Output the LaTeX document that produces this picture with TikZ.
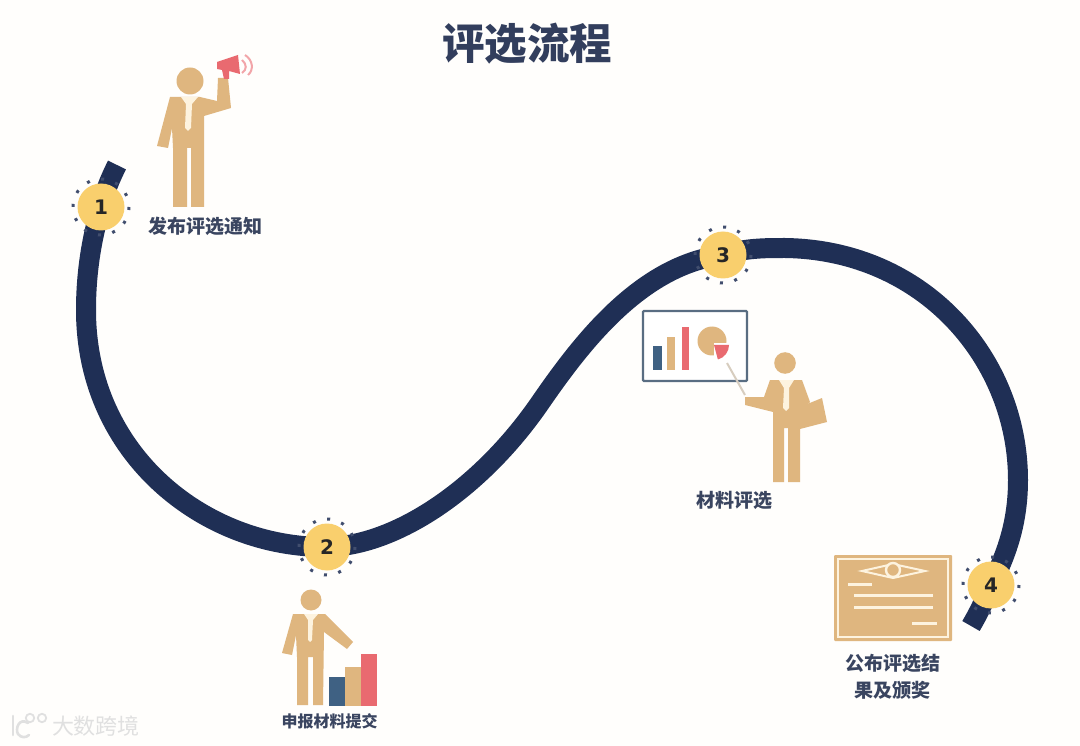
\documentclass[tikz,border=0pt]{standalone}
\usepackage{fontspec}
\setmainfont{DejaVu Sans}
\newfontfamily\cjk{Noto Sans CJK SC}
\usepackage{tikz}
\definecolor{paper}{HTML}{FFFEFC}
\definecolor{road}{HTML}{1F2F55}
\definecolor{suit}{HTML}{DFB67F}
\definecolor{badge}{HTML}{F9CF6D}
\definecolor{barblue}{HTML}{3F6183}
\definecolor{barred}{HTML}{E96A70}
\definecolor{ink}{HTML}{3A4560}
\definecolor{cream}{HTML}{FDF3DF}
\tikzset{
  badge/.style={circle, fill=badge, minimum size=47pt, inner sep=0pt, font=\fontsize{20}{20}\selectfont\bfseries, text=black!85},
  ring/.style={draw=road!85, line width=3pt, dash pattern=on 3pt off 11.66pt},
  label/.style={font=\cjk\bfseries\fontsize{19}{27}\selectfont, text=ink, align=center, inner sep=0pt},
  tie/.style={fill=cream},
  rule/.style={draw=cream, line width=3pt},
  logo/.style={draw=black!12, line width=2.6pt, line cap=round}
}
\begin{document}
\begin{tikzpicture}[x=1pt, y=-1pt]
\useasboundingbox (0,0) rectangle (1080,746);
\fill[paper] (0,0) rectangle (1080,746);
\node[font=\cjk\bfseries\fontsize{42.5}{42.5}\selectfont, text=ink!70!road, inner sep=0pt] (title) at (527,44) {评选流程};
% road
\coordinate (S) at (117,165);
\coordinate (P1) at (101,207);
\coordinate (P2) at (327,547);
\coordinate (P3) at (723,255);
\coordinate (P4) at (991,585);
\coordinate (E) at (971,626);
\draw[road, line width=20pt] (S) .. controls (108,183) and (104,195) .. (P1)
  .. controls (91,240) and (86,275) .. (86,310)
  .. controls (86,455) and (205,548) .. (P2)
  .. controls (395,546) and (480,490) .. (540,403)
  .. controls (580,345) and (640,265) .. (P3)
  .. controls (745,248) and (765,248) .. (785,248)
  .. controls (925,250) and (1018,360) .. (1018,480)
  .. controls (1018,520) and (1008,552) .. (P4)
  .. controls (984,602) and (978,614) .. (E);
\node[badge] (B1) at (P1) {1};
\node[badge] (B2) at (P2) {2};
\node[badge] (B3) at (P3) {3};
\node[badge] (B4) at (P4) {4};
\draw[ring] (B1) circle (28);
\draw[ring] (B2) circle (28);
\draw[ring] (B3) circle (28);
\draw[ring] (B4) circle (28);
% person with megaphone
\fill[suit] (190,81) circle (13.5);
\fill[suit] (170,97) -- (200,97) -- (217,101) -- (218,78) -- (228,78) -- (231,108) -- (204,116) -- (204,207) -- (191,207) -- (191,148) -- (187,148) -- (187,207) -- (173,207) -- (173,148) -- (172,128) -- (168,148) -- (157,146) -- cycle;
\fill[tie] (181,97) -- (198,97) -- (192,104) -- (191,128) -- (188,131) -- (185,128) -- (186,104) -- cycle;
\fill[barred] (217,62) -- (238,55) -- (240,74) -- (229,71) -- (229,79) -- (224,79) -- (222,70) -- (217,69) -- cycle;
\draw[barred!60, line width=2pt] (242,60) .. controls (247,64) and (247,70) .. (242,73);
\draw[barred!60, line width=2pt] (245,55) .. controls (253,60) and (254,70) .. (248,75);
\node[label] (L1) at (205,226) {发布评选通知};
% person with bars
\fill[suit] (311,600) circle (10.5);
\fill[suit] (293,614) -- (325,614) -- (353,642) -- (347,649) -- (324,632) -- (323,705) -- (313,705) -- (313,657) -- (308,657) -- (308,705) -- (297,705) -- (297,657) -- (296,635) -- (292,655) -- (282,653) -- cycle;
\fill[tie] (304,614) -- (318,614) -- (313,620) -- (312,640) -- (310,642) -- (308,640) -- (308,620) -- cycle;
\fill[barblue] (329,677) rectangle (345,706);
\fill[suit] (345,667) rectangle (361,706);
\fill[barred] (361,654) rectangle (377,706);
\node[label, font=\cjk\bfseries\fontsize{16}{16}\selectfont] (L2) at (329.5,721) {申报材料提交};
% board and person
\draw[draw=barblue!60!gray, line width=2.4pt, fill=white, rounded corners=1pt] (643,311) rectangle (747,381);
\fill[barblue] (653,346) rectangle (662,370);
\fill[suit] (667,337) rectangle (675,370);
\fill[barred] (682,327) rectangle (689,370);
\fill[suit] (712,341) circle (14.5);
\fill[white] (714,343) rectangle (730,361);
\fill[barred] (714,345) -- (729,345) arc (0:75:15) -- cycle;
\draw[suit!50!gray!50, line width=2pt] (727,363) -- (745,395);
\fill[suit] (785,363) circle (10.8);
\fill[suit] (800,407) -- (822,398) -- (827,422) -- (800,429) -- cycle;
\fill[suit] (770,380) -- (802,380) -- (810,402) -- (800,412) -- (800,482) -- (788,482) -- (788,428) -- (784,428) -- (784,482) -- (773,482) -- (773,412) -- (745,405) -- (745,397) -- (764,397) -- cycle;
\fill[tie] (779,380) -- (794,380) -- (789,388) -- (789,408) -- (786,411) -- (783,408) -- (784,388) -- cycle;
\node[label] (L3) at (734,500) {材料评选};
% certificate
\fill[suit, rounded corners=1pt] (834,555) rectangle (952,641);
\draw[draw=cream, line width=2pt] (838,559) rectangle (948,637);
\draw[cream, line width=2pt, fill=suit] (862,571) -- (893,564) -- (925,571) -- (893,578) -- cycle;
\draw[cream, line width=2.4pt, fill=suit] (893,570) circle (7);
\draw[rule] (848,584) -- (872,584);
\draw[rule] (854,595) -- (933,595);
\draw[rule] (854,607) -- (933,607);
\draw[rule] (912,623) -- (937,623);
\node[label] (L4) at (892.5,676.5) {公布评选结\\果及颁奖};
% watermark
\draw[logo] (13,716) -- (13,735);
\draw[logo] (28,723) .. controls (19,717) and (15,729) .. (18,734) .. controls (21,738) and (26,738) .. (29,735);
\draw[logo, line width=1.8pt] (30,718) circle (4.2) (42,718) circle (4.2);
\node[font=\cjk\fontsize{22}{22}\selectfont, text=black!12, inner sep=0pt] (W) at (96,726) {大数跨境};
\end{tikzpicture}
\end{document}
